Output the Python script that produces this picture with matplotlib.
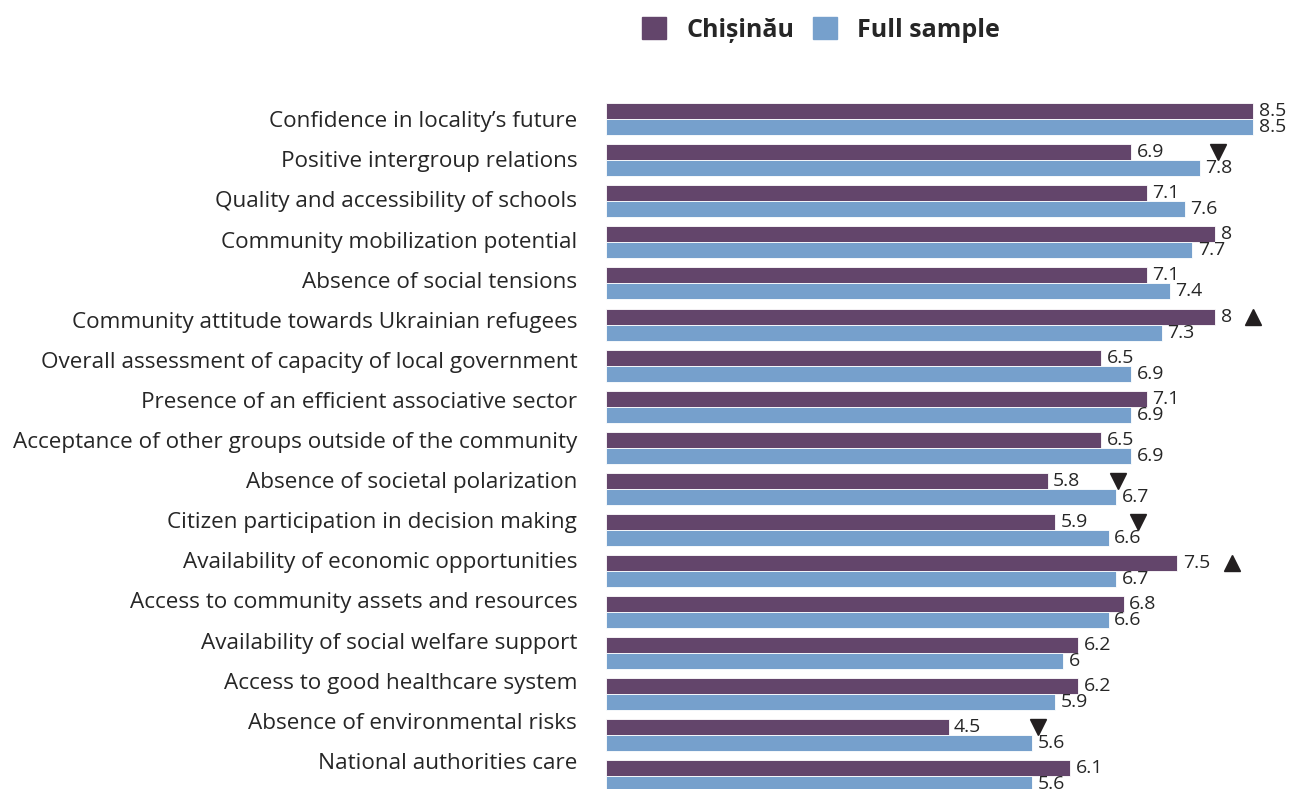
import numpy as np
import matplotlib.pyplot as plt
from matplotlib.patches import Patch

# data
categories = [
    'Confidence in locality’s future',
    'Positive intergroup relations',
    'Quality and accessibility of schools',
    'Community mobilization potential',
    'Absence of social tensions',
    'Community attitude towards Ukrainian refugees',
    'Overall assessment of capacity of local government',
    'Presence of an efficient associative sector',
    'Acceptance of other groups outside of the community',
    'Absence of societal polarization',
    'Citizen participation in decision making',
    'Availability of economic opportunities',
    'Access to community assets and resources',
    'Availability of social welfare support',
    'Access to good healthcare system',
    'Absence of environmental risks',
    'National authorities care',
]
chisinau = [8.5, 6.9, 7.1, 8, 7.1, 8, 6.5, 7.1, 6.5, 5.8, 5.9, 7.5, 6.8, 6.2, 6.2, 4.5, 6.1]
full_sample = [8.5, 7.8, 7.6, 7.7, 7.4, 7.3, 6.9, 6.9, 6.9, 6.7, 6.6, 6.7, 6.6, 6.0, 5.9, 5.6, 5.6]

# significant differences (row, direction, where the arrow sits on the value axis)
sig_rows = [1, 5, 9, 10, 11, 15]
sig_marks = ['v', '^', 'v', 'v', '^', 'v']
sig_x = [8.03, 8.5, 6.73, 6.98, 8.22, 5.67]

purple = '#63456B'
blue = '#76A0CC'
txt = '#262626'

plt.rcParams['font.family'] = ['Open Sans', 'DejaVu Sans']

fig = plt.figure(figsize=(12.9, 7.89), dpi=100)
left = 605.7 / 1290
ax = fig.add_axes([left, 0, 1 - left, 1])

y = np.arange(len(categories))
h = 0.39
ax.barh(y - h / 2, chisinau, height=h, color=purple, edgecolor='white', linewidth=0.6)
ax.barh(y + h / 2, full_sample, height=h, color=blue, edgecolor='white', linewidth=0.6)

for yi, v in zip(y, chisinau):
    ax.annotate(f'{v:g}', (v, yi - h / 2), xytext=(4, 0), textcoords='offset points',
                va='center', ha='left', fontsize=14, color=txt)
for yi, v in zip(y, full_sample):
    ax.annotate(f'{v:g}', (v, yi + h / 2), xytext=(4, 0), textcoords='offset points',
                va='center', ha='left', fontsize=14, color=txt)

for r, m, xv in zip(sig_rows, sig_marks, sig_x):
    ax.plot(xv, r - h / 2, marker=m, color='#231F20', markersize=12, linestyle='none')

ax.set_xlim(0, (1290 - 605.7) / 76.19)
ax.set_ylim(16.318, -2.907)
ax.set_yticks(y * 0.977)
ax.set_yticklabels(categories, fontsize=16.2, color=txt)
ax.tick_params(axis='y', length=0, pad=20.5)
ax.set_xticks([])
for s in ax.spines.values():
    s.set_visible(False)

handles = [Patch(color=purple), Patch(color=blue)]
fig.legend(handles, ['Chișinău', 'Full sample'], loc='center',
           bbox_to_anchor=(821 / 1290, 1 - 30 / 789), ncol=2, frameon=False,
           prop={'weight': 'bold', 'size': 18}, labelcolor=txt,
           handlelength=0.95, handleheight=0.95, handletextpad=0.8, columnspacing=0.75)

fig.savefig('out.png', dpi=100)
